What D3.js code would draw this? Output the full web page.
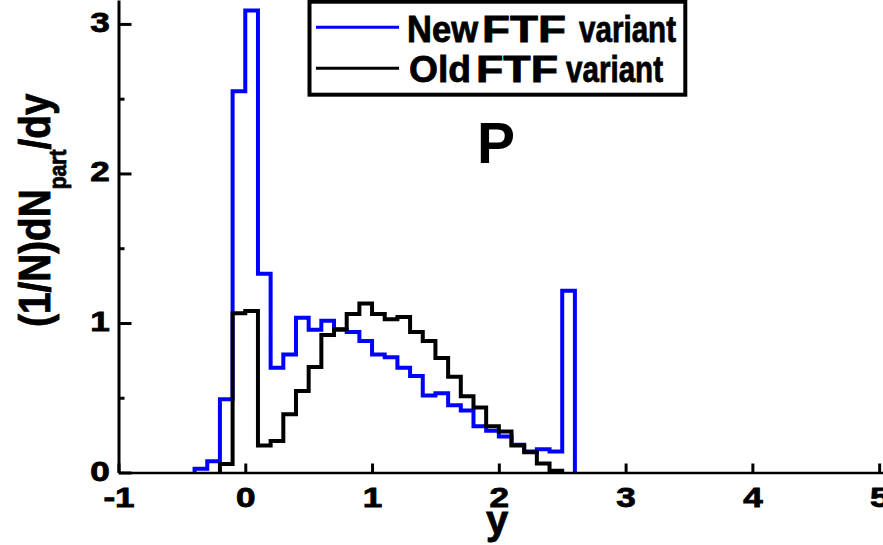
<!DOCTYPE html>
<html><head><meta charset="utf-8">
<script src="https://cdn.jsdelivr.net/npm/d3@7"></script>
<style>
html,body{margin:0;padding:0;background:#fff;}
svg{display:block;}
text{font-family:"Liberation Sans",Arial,sans-serif;font-weight:bold;fill:#000;}
.heavy{stroke:#000;stroke-width:0.8px;}
</style></head><body>
<svg id="chart" width="883" height="545"></svg>
<script>
// Rapidity distribution of participant protons, 0.1-wide bins (lower edges listed)
const newBinStarts = [-0.4,-0.3,-0.2,-0.1,0.0,0.1,0.2,0.3,0.4,0.5,0.6,0.7,0.8,0.9,1.0,
                      1.1,1.2,1.3,1.4,1.5,1.6,1.7,1.8,1.9,2.0,2.1,2.2,2.3,2.4,2.5];
const newValues    = [0.025,0.075,0.49,2.55,3.09,1.33,0.70,0.79,1.035,0.955,1.015,0.955,0.94,0.88,0.79,
                      0.77,0.70,0.645,0.515,0.53,0.45,0.415,0.31,0.28,0.24,0.185,0.14,0.155,0.14,1.215];
const oldBinStarts = [-0.2,-0.1,0.0,0.1,0.2,0.3,0.4,0.5,0.6,0.7,0.8,0.9,1.0,1.1,
                      1.2,1.3,1.4,1.5,1.6,1.7,1.8,1.9,2.0,2.1,2.2,2.3,2.4];
const oldValues    = [0.057,1.065,1.08,0.18,0.21,0.39,0.545,0.705,0.92,0.958,1.06,1.13,1.06,1.025,
                      1.04,0.94,0.88,0.765,0.64,0.51,0.435,0.31,0.275,0.18,0.135,0.06,0.012];
const binWidth = 0.1;
const xTicks = [-1,0,1,2,3,4,5];
const yTicks = [0,1,2,3];
const yMinorTicks = [0.5,1.5,2.5];
const seriesNames = ["New FTF variant","Old FTF variant"];
const seriesColors = ["#0000ff","#000000"];

const svg = d3.select("#chart");
const x = d3.scaleLinear().domain([-1, 5.0303]).range([118.5, 883]);
const y = d3.scaleLinear().domain([0, 3.16]).range([472.5, 0]);

// step outline for a histogram
function stepPoints(starts, vals) {
  const pts = [[starts[0], 0]];
  starts.forEach((s, i) => { pts.push([s, vals[i]]); pts.push([s + binWidth, vals[i]]); });
  pts.push([starts[starts.length - 1] + binWidth, 0]);
  return pts;
}
const line = d3.line().x(d => x(d[0])).y(d => y(d[1]));

svg.append("path").datum(stepPoints(newBinStarts, newValues))
  .attr("d", line).attr("fill", "none").attr("stroke", seriesColors[0])
  .attr("stroke-width", 4).attr("stroke-linejoin", "miter");
svg.append("path").datum(stepPoints(oldBinStarts, oldValues))
  .attr("d", line).attr("fill", "none").attr("stroke", seriesColors[1])
  .attr("stroke-width", 4).attr("stroke-linejoin", "miter");

// x axis, ticks pointing inward
const gx = svg.append("g").attr("transform", `translate(0,${y(0)})`)
  .call(d3.axisBottom(x).tickValues(xTicks).tickSize(-9).tickSizeOuter(0)
    .tickFormat(d => d < 0 ? "-" + Math.abs(d) : d));
gx.select(".domain").attr("stroke-width", 2.5);
gx.selectAll(".tick line").attr("stroke-width", 3);
gx.selectAll(".tick text").attr("y", null).attr("dy", null).attr("x", 0)
  .attr("class", "heavy").attr("text-anchor", "middle").attr("font-size", 27)
  .attr("transform", "translate(0,34) scale(1.3,1)");

// y axis with major and minor ticks
const gy = svg.append("g").attr("transform", `translate(${x(-1)},0)`)
  .call(d3.axisLeft(y).tickValues(yTicks).tickSize(-13).tickSizeOuter(0).tickFormat(d3.format("d")));
gy.select(".domain").attr("stroke-width", 3);
gy.selectAll(".tick line").attr("stroke-width", 3);
gy.selectAll(".tick text").attr("y", null).attr("dy", null).attr("x", 0)
  .attr("class", "heavy").attr("text-anchor", "middle").attr("font-size", 27)
  .attr("transform", "translate(-18.5,7.5) scale(1.3,1)");
const gym = svg.append("g").attr("transform", `translate(${x(-1)},0)`)
  .call(d3.axisLeft(y).tickValues(yMinorTicks).tickSize(-6).tickFormat(""));
gym.select(".domain").remove();
gym.selectAll(".tick line").attr("stroke-width", 3);

// axis titles
svg.append("text").attr("class", "heavy").attr("x", 497).attr("y", 534).attr("text-anchor", "middle")
  .attr("font-size", 40).text("y");
const yl = svg.append("text").attr("class", "heavy").attr("font-size", 44)
  .attr("transform", "translate(50,327) rotate(-90) scale(0.88,1)");
yl.append("tspan").text("(1/N)dN");
yl.append("tspan").attr("font-size", 24).attr("dy", 16).text("part");
yl.append("tspan").attr("dy", -16).text("/dy");

// panel label
svg.append("text").attr("x", 477).attr("y", 163.3).attr("font-size", 57).text("P");

// legend
const lg = svg.append("g");
lg.append("rect").attr("x", 309.5).attr("y", 1.7).attr("width", 375.8).attr("height", 93)
  .attr("fill", "#fff").attr("stroke", "#000").attr("stroke-width", 4);
const legendRows = [
  {y: 27.3, base: 41.7, words: [[407, 71], [482, 84], [579, 97]]},
  {y: 68.3, base: 81.7, words: [[409, 62], [476, 82], [566, 97]]}
];
legendRows.forEach((row, i) => {
  lg.append("line").attr("x1", 316).attr("x2", 399).attr("y1", row.y).attr("y2", row.y)
    .attr("stroke", seriesColors[i]).attr("stroke-width", 3);
  seriesNames[i].split(" ").forEach((w, j) => {
    lg.append("text").attr("class", "heavy").attr("x", row.words[j][0]).attr("y", row.base)
      .attr("font-size", 36).attr("textLength", row.words[j][1])
      .attr("lengthAdjust", "spacingAndGlyphs").text(w);
  });
});
</script>
</body></html>
